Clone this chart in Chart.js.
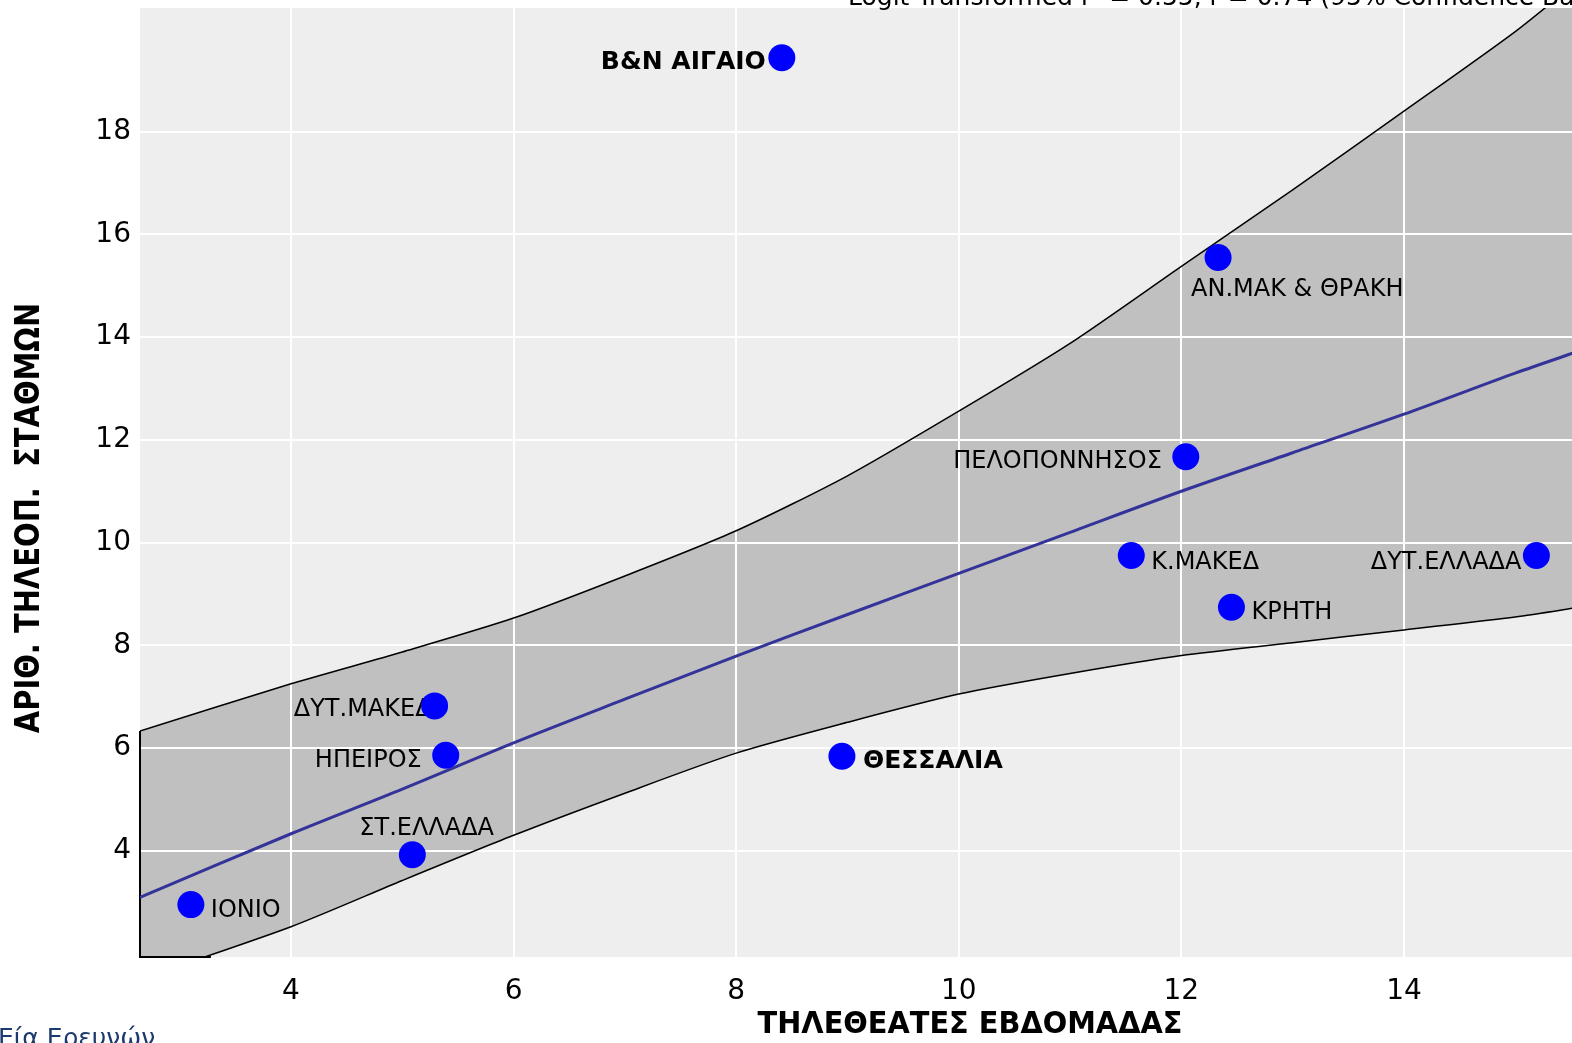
<!DOCTYPE html>
<html>
<head>
<meta charset="utf-8">
<script src="https://cdn.jsdelivr.net/npm/chart.js@4"></script>
<style>
html, body { margin: 0; padding: 0; background: #fff; overflow: hidden; }
</style>
</head>
<body>
<canvas id="c" width="1572" height="1043"></canvas>
<script>
// regions, weekly viewers (x) vs number of stations (y)
const regions = ['ΙΟΝΙΟ', 'ΣΤ.ΕΛΛΑΔΑ', 'ΗΠΕΙΡΟΣ', 'ΔΥΤ.ΜΑΚΕΔ', 'ΘΕΣΣΑΛΙΑ', 'Β&Ν ΑΙΓΑΙΟ',
  'ΑΝ.ΜΑΚ & ΘΡΑΚΗ', 'ΠΕΛΟΠΟΝΝΗΣΟΣ', 'Κ.ΜΑΚΕΔ', 'ΚΡΗΤΗ', 'ΔΥΤ.ΕΛΛΑΔΑ'];
const viewers  = [3.10, 5.09, 5.39, 5.29, 8.95, 8.41, 12.33, 12.04, 11.55, 12.45, 15.19];
const stations = [2.95, 3.92, 5.86, 6.82, 5.84, 19.44, 15.55, 11.67, 9.75, 8.74, 9.75];

// fitted curve and confidence band
const bandX     = [2.643, 4, 5, 6, 7, 8, 9, 10, 11, 12, 13, 14, 15, 15.6];
const bandUpper = [6.33, 7.25, 7.87, 8.53, 9.35, 10.23, 11.3, 12.56, 13.88, 15.38, 16.87, 18.4, 19.95, 21.0];
const bandLower = [1.5, 2.52, 3.42, 4.3, 5.12, 5.9, 6.5, 7.05, 7.45, 7.8, 8.05, 8.3, 8.55, 8.75];
const fitY      = [3.09, 4.33, 5.2, 6.1, 6.95, 7.79, 8.6, 9.4, 10.2, 11.0, 11.75, 12.5, 13.3, 13.75];

const xTicks = [4, 6, 8, 10, 12, 14];
const yTicks = [4, 6, 8, 10, 12, 14, 16, 18];
const xMin = 2.643, xMax = 15.51, yMin = 1.93, yMax = 20.41;

const titleText = 'Logit Transformed r² = 0.55, r = 0.74 (95% Confidence Band)';
const xTitle = 'ΤΗΛΕΘΕΑΤΕΣ ΕΒΔΟΜΑΔΑΣ';
const yTitle = 'ΑΡΙΘ. ΤΗΛΕΟΠ.  ΣΤΑΘΜΩΝ';

// label placement: [dx, dy, align, bold]
const labelStyle = [
  [20, 6, 'left', false],
  [-53, -26, 'left', false],
  [-24, 6, 'right', false],
  [-3, 4, 'right', false],
  [21, 5, 'left', true],
  [-16, 5, 'right', true],
  [-27, 32, 'left', false],
  [-24, 5, 'right', false],
  [20, 7, 'left', false],
  [20, 5, 'left', false],
  [-15, 7, 'right', false]
];

const FONT = "'DejaVu Sans', Verdana, sans-serif";
const pts = (xs, ys) => xs.map((x, i) => ({ x: x, y: ys[i] }));

const decor = {
  id: 'decor',
  beforeDraw(chart) {
    const c = chart.ctx, a = chart.chartArea;
    c.save();
    c.fillStyle = '#ffffff';
    c.fillRect(0, 0, chart.width, chart.height);
    c.fillStyle = '#eeeeee';
    c.fillRect(a.left, a.top, a.right - a.left, a.bottom - a.top);
    c.restore();
  },
  beforeDatasetsDraw(chart) {
    const c = chart.ctx, a = chart.chartArea;
    const sx = chart.scales.x, sy = chart.scales.y;
    c.save();
    c.strokeStyle = '#ffffff';
    c.lineWidth = 2;
    xTicks.forEach(v => {
      const px = Math.round(sx.getPixelForValue(v));
      c.beginPath(); c.moveTo(px, a.top); c.lineTo(px, a.bottom); c.stroke();
    });
    yTicks.forEach(v => {
      const py = Math.round(sy.getPixelForValue(v));
      c.beginPath(); c.moveTo(a.left, py); c.lineTo(a.right, py); c.stroke();
    });
    c.restore();
  },
  afterDatasetDraw(chart, args) {
    if (args.index !== 3) return;
    const c = chart.ctx;
    const meta = chart.getDatasetMeta(4);
    c.save();
    c.fillStyle = '#000';
    c.textBaseline = 'middle';
    regions.forEach((name, i) => {
      const el = meta.data[i];
      const s = labelStyle[i];
      c.font = s[3] ? 'bold 25px ' + FONT : '24px ' + FONT;
      c.textAlign = s[2];
      c.fillText(name, el.x + s[0], el.y + s[1]);
    });
    c.restore();
  },
  afterDraw(chart) {
    const c = chart.ctx;
    c.save();
    c.fillStyle = '#000';
    c.textBaseline = 'alphabetic';
    c.textAlign = 'left';
    c.font = '25px ' + FONT;
    c.fillText(titleText, 848, 5);

    c.save();
    c.translate(970, 1025);
    c.scale(0.96, 1);
    c.font = 'bold 30px ' + FONT;
    c.textAlign = 'center';
    c.textBaseline = 'middle';
    c.fillText(xTitle, 0, 0);
    c.restore();

    c.save();
    c.translate(30, 518);
    c.rotate(-Math.PI / 2);
    c.scale(0.877, 1);
    c.font = 'bold 33px ' + FONT;
    c.textAlign = 'center';
    c.textBaseline = 'middle';
    c.fillText(yTitle, 0, 0);
    c.restore();

    c.fillStyle = '#1c3a6e';
    c.textAlign = 'left';
    c.textBaseline = 'top';
    c.font = '25px ' + FONT;
    c.fillText('Εία Ερευνών', -2, 1027);
    c.restore();
  }
};

new Chart(document.getElementById('c'), {
  type: 'line',
  data: {
    datasets: [
      {
        data: pts(bandX, bandUpper),
        borderColor: '#000', borderWidth: 1.5, pointRadius: 0,
        fill: false, order: 4, tension: 0.25
      },
      {
        data: pts(bandX, bandLower),
        borderColor: '#000', borderWidth: 1.5, pointRadius: 0,
        backgroundColor: '#c0c0c0', fill: '-1', order: 3, tension: 0.25
      },
      {
        // closing edges of the band at the plot border
        data: [{ x: bandX[0], y: bandUpper[0] }, { x: bandX[0], y: yMin }, { x: 3.28, y: yMin }],
        borderColor: '#000', borderWidth: 2, pointRadius: 0, fill: false, order: 2, clip: false
      },
      {
        data: pts(bandX, fitY),
        borderColor: '#333399', borderWidth: 3, pointRadius: 0, fill: false, order: 1, tension: 0.3
      },
      {
        data: pts(viewers, stations),
        showLine: false, pointRadius: 13.5, pointBackgroundColor: '#0000ff',
        pointBorderColor: '#0000ff', pointBorderWidth: 0, order: 0, clip: false
      }
    ]
  },
  options: {
    responsive: false,
    devicePixelRatio: 1,
    animation: false,
    layout: { autoPadding: false, padding: { top: 8, left: 0, right: 0, bottom: 0 } },
    plugins: {
      legend: { display: false },
      tooltip: { enabled: false },
      filler: { drawTime: 'beforeDatasetsDraw' }
    },
    scales: {
      x: {
        type: 'linear', min: xMin, max: xMax,
        grid: { display: false, drawTicks: false },
        border: { display: false },
        ticks: { color: '#000', font: { family: FONT, size: 28 }, padding: 18 },
        afterBuildTicks: s => { s.ticks = xTicks.map(v => ({ value: v })); },
        afterFit: s => { s.height = 86; s.paddingLeft = 0; s.paddingRight = 0; }
      },
      y: {
        type: 'linear', min: yMin, max: yMax,
        grid: { display: false, drawTicks: false },
        border: { display: false },
        ticks: { color: '#000', font: { family: FONT, size: 28 }, padding: 9 },
        afterBuildTicks: s => { s.ticks = yTicks.map(v => ({ value: v })); },
        afterFit: s => { s.width = 140; s.paddingTop = 0; s.paddingBottom = 0; }
      }
    }
  },
  plugins: [decor]
});
</script>
</body>
</html>
